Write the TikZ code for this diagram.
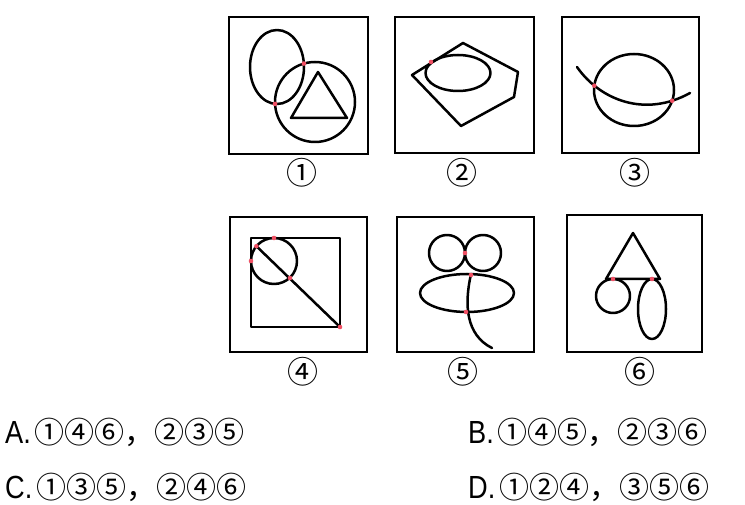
\documentclass[tikz,border=0pt]{standalone}
\usepackage{fontspec}
\setmainfont{Liberation Sans}
\newfontfamily\cjk{Noto Sans CJK SC}
\newfontfamily\narrow[FakeStretch=0.85]{Liberation Sans}
\usetikzlibrary{intersections}

\definecolor{touch}{RGB}{240,80,100}

\tikzset{
  fig/.style={line width=2.5pt, line join=round, line cap=round},
  frame/.style={line width=2.8pt},
  num/.style={font=\cjk\fontsize{31}{31}\selectfont, inner sep=0pt},
  opt/.style={font=\narrow\fontsize{32}{32}\selectfont, anchor=west, inner sep=0pt},
}

\newcommand{\spot}[1]{\fill[touch] #1 circle (2.3);}
\newcommand{\rings}[1]{\kern4pt{\cjk\fontsize{30}{30}\selectfont #1}}

\begin{document}
\begin{tikzpicture}[x=1pt, y=-1pt]
  \useasboundingbox (0,0) rectangle (745,505);

  % 1
  \draw[frame] (229,17) rectangle (368,154);
  \draw[fig, name path=egg] (277,67) ellipse (27 and 37);
  \draw[fig, name path=ring] (315,102) circle (40);
  \draw[fig] (318,72) -- (347,118) -- (291,118) -- cycle;
  \fill[touch, name intersections={of=egg and ring}]
    (intersection-1) circle (2.3) (intersection-2) circle (2.3);
  \node[num] (n1) at (302,173) {①};

  % 2
  \draw[frame] (395,17) rectangle (534,153);
  \draw[fig] (412,75) -- (463,43) -- (518,72) -- (514,97) -- (461,126) -- cycle;
  \draw[fig] (458,73) ellipse (32.5 and 18);
  \spot{(431,62)}
  \node[num] (n2) at (462,173) {②};

  % 3
  \draw[frame] (562,17) rectangle (699,153);
  \draw[fig, name path=ball] (634,90) ellipse (40 and 36);
  \draw[fig, name path=arc] (577,67) .. controls (600,100) and (645,118) .. (690,93);
  \fill[touch, name intersections={of=ball and arc}]
    (intersection-1) circle (2.3) (intersection-2) circle (2.3);
  \node[num] (n3) at (635,173) {③};

  % 4
  \draw[frame] (230,217) rectangle (367,352);
  \draw[fig] (251,238) rectangle (340,327);
  \draw[fig] (274,261) circle (23);
  \draw[fig] (256.4,246.2) -- (340,327);
  \spot{(274,238)}
  \spot{(251,261)}
  \spot{(256.4,246.2)}
  \spot{(290,278)}
  \spot{(340,327)}
  \node[num] (n4) at (303,372) {④};

  % 5
  \draw[frame] (397,217) rectangle (534,352);
  \draw[fig] (447,253) circle (18);
  \draw[fig] (483,253) circle (18);
  \draw[fig] (467,293) ellipse (47 and 19);
  \draw[fig] (471,274.1) .. controls (464,305) and (466,335) .. (492,348);
  \spot{(465,253)}
  \spot{(471,275)}
  \spot{(466,312)}
  \node[num] (n5) at (463,372) {⑤};

  % 6
  \draw[frame] (567,215) rectangle (702,352);
  \draw[fig] (633,233) -- (660,279) -- (606,279) -- cycle;
  \draw[fig] (613,296) circle (17);
  \draw[fig] (652,309) ellipse (14 and 30);
  \spot{(613,279)}
  \spot{(652,279)}
  \node[num] (n6) at (640,372) {⑥};

  % answers
  \node[opt] (a) at (5,432)   {A.\rings{①④⑥，②③⑤}};
  \node[opt] (b) at (468,432) {B.\rings{①④⑤，②③⑥}};
  \node[opt] (c) at (5,487)   {C.\rings{①③⑤，②④⑥}};
  \node[opt] (d) at (468,487) {D.\rings{①②④，③⑤⑥}};
\end{tikzpicture}
\end{document}
